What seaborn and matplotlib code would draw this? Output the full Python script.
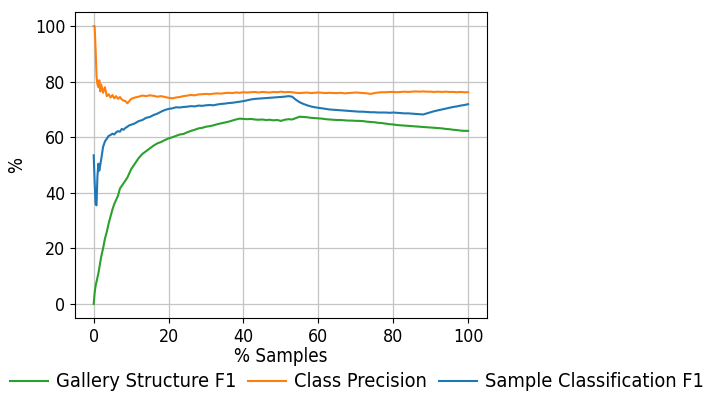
import matplotlib
matplotlib.use("Agg")
import matplotlib.pyplot as plt
from matplotlib import font_manager as fm
import seaborn as sns
import pandas as pd

pct_samples = [0, 0.25, 0.5, 0.75, 1, 1.25, 1.5, 1.75, 2, 2.5, 3, 3.5, 4, 4.5, 5, 5.5, 6, 6.5, 7, 7.5,
               8, 8.5, 9, 9.5] + list(range(10, 101))

gallery_f1 = [0, 4, 6.5, 8, 9.5, 11, 13, 15, 17, 20, 23.5, 26, 29, 31.5, 34, 36, 37.5, 39, 41.5, 42.5,
              43.5, 44.5, 45.5, 47,
              48.5, 50.5, 52.5, 54, 55, 56, 57, 57.8, 58.3, 59, 59.6, 60, 60.5, 61, 61.2, 61.8, 62.3, 62.7, 63.2, 63.4,
              63.8, 64, 64.3, 64.7, 65, 65.3, 65.6, 66, 66.4, 66.7, 66.6, 66.5, 66.6, 66.4, 66.3, 66.4, 66.2, 66.3, 66.1, 66.2,
              65.9, 66.3, 66.5, 66.4, 66.9, 67.4, 67.3, 67.2, 67.0, 66.9, 66.8, 66.7, 66.5, 66.4, 66.3, 66.2, 66.2, 66.1, 66.0, 66.0,
              65.9, 65.9, 65.8, 65.6, 65.5, 65.4, 65.2, 65.1, 64.9, 64.7, 64.6, 64.4, 64.3, 64.2, 64.1, 64.0, 63.9, 63.8, 63.7, 63.6,
              63.5, 63.4, 63.3, 63.2, 63.0, 62.9, 62.7, 62.6, 62.4, 62.3, 62.3]

class_precision = [100, 100, 92, 82, 79, 78, 80.5, 76.5, 79, 76, 78, 74.8, 75.5, 74.3, 75.2, 74, 74.8, 73.8, 74.5, 73.6,
                   73.2, 73, 72.2, 73,
                   73.8, 74.3, 74.6, 75, 74.8, 75.1, 74.9, 74.6, 74.8, 74.5, 74.2, 74, 74.3, 74.5, 74.8, 75, 75.2, 75.1, 75.4, 75.5,
                   75.6, 75.5, 75.7, 75.8, 75.7, 75.9, 76, 75.9, 76.1, 76, 76.2, 76.1, 76.2, 76.3, 76.1, 76.3, 76.2, 76.1, 76.3, 76.2,
                   76.4, 76.2, 76.3, 76.2, 76.0, 75.9, 76.0, 76.1, 75.9, 76.0, 76.1, 76.0, 75.9, 76.0, 75.9, 75.9, 76.0, 75.8, 75.9, 76.0,
                   76.1, 76.0, 75.9, 75.8, 75.6, 75.9, 76.1, 76.2, 76.2, 76.3, 76.3, 76.2, 76.3, 76.4, 76.3, 76.4, 76.5, 76.4, 76.5, 76.4,
                   76.4, 76.3, 76.4, 76.3, 76.4, 76.3, 76.3, 76.2, 76.3, 76.2, 76.2]

sample_f1 = [53.5, 44, 36, 35.5, 46, 50.5, 48, 50, 52, 56.5, 58.5, 59.5, 60.5, 60.8, 61.3, 61, 61.8, 62.2, 62, 63,
             62.7, 63.4, 63.8, 64.3,
             64.5, 65, 65.8, 66.2, 67, 67.3, 68, 68.5, 69.2, 69.8, 70.2, 70.4, 70.8, 70.7, 70.9, 71, 71.2, 71.1, 71.4, 71.3,
             71.5, 71.6, 71.5, 71.8, 72, 72.1, 72.3, 72.4, 72.6, 72.8, 73, 73.3, 73.6, 73.8, 73.9, 74, 74.1, 74.2, 74.3, 74.4,
             74.5, 74.6, 74.8, 74.6, 73.5, 72.6, 72.0, 71.5, 71.1, 70.8, 70.6, 70.4, 70.2, 70.0, 69.9, 69.8, 69.7, 69.6, 69.5, 69.4,
             69.3, 69.2, 69.2, 69.1, 69.0, 69.0, 68.9, 68.9, 68.9, 68.8, 68.9, 68.8, 68.7, 68.6, 68.6, 68.5, 68.4, 68.3, 68.2, 68.6,
             69.0, 69.4, 69.7, 70.0, 70.3, 70.6, 70.9, 71.1, 71.4, 71.6, 71.9]

series_names = ["Gallery Structure F1", "Class Precision", "Sample Classification F1"]
series_colors = ["#2ca02c", "#ff7f0e", "#1f77b4"]

# look for a condensed DejaVu Sans (reference text is narrow and tall)
cond_path = None
for f in fm.fontManager.ttflist:
    if (f.name == "DejaVu Sans" and f.stretch == "condensed" and f.style == "normal"
            and f.weight in (400, "normal", "regular")):
        cond_path = f.fname
        break

if cond_path:
    def fp(size):
        return fm.FontProperties(fname=cond_path, size=size)
    tick_fs, label_fs, leg_fs = 12.8, 13.5, 14.3
else:
    def fp(size):
        return fm.FontProperties(family="DejaVu Sans", size=size)
    tick_fs, label_fs, leg_fs = 11.8, 12.4, 13

df = pd.concat([
    pd.DataFrame({"x": pct_samples, "y": vals, "metric": name})
    for name, vals in zip(series_names, [gallery_f1, class_precision, sample_f1])
], ignore_index=True)

fig = plt.figure(figsize=(7.04, 3.93), dpi=100)
ax = fig.add_axes([0.1065, 0.191, 0.585, 0.778])
sns.lineplot(data=df, x="x", y="y", hue="metric", hue_order=series_names,
             palette=series_colors, linewidth=1.5, ax=ax, legend=True, estimator=None, sort=False)
ax.grid(True, color="#c4c4c4", linewidth=0.9)
ax.set_xticks([0, 20, 40, 60, 80, 100])
ax.set_yticks([0, 20, 40, 60, 80, 100])
for lab in ax.get_xticklabels() + ax.get_yticklabels():
    lab.set_fontproperties(fp(tick_fs))
ax.set_xlabel("% Samples", fontproperties=fp(label_fs), labelpad=1)
ax.set_ylabel("%", fontproperties=fp(label_fs), labelpad=6)
for s in ax.spines.values():
    s.set_color("black")
    s.set_linewidth(0.8)

handles, labels = ax.get_legend_handles_labels()
ax.get_legend().remove()
fig.legend(handles, labels, loc="center", bbox_to_anchor=(0.507, 0.028), ncol=3, frameon=False,
           prop=fp(leg_fs), handlelength=1.9, columnspacing=0.6, handletextpad=0.4)

fig.savefig("out.png", dpi=100)
